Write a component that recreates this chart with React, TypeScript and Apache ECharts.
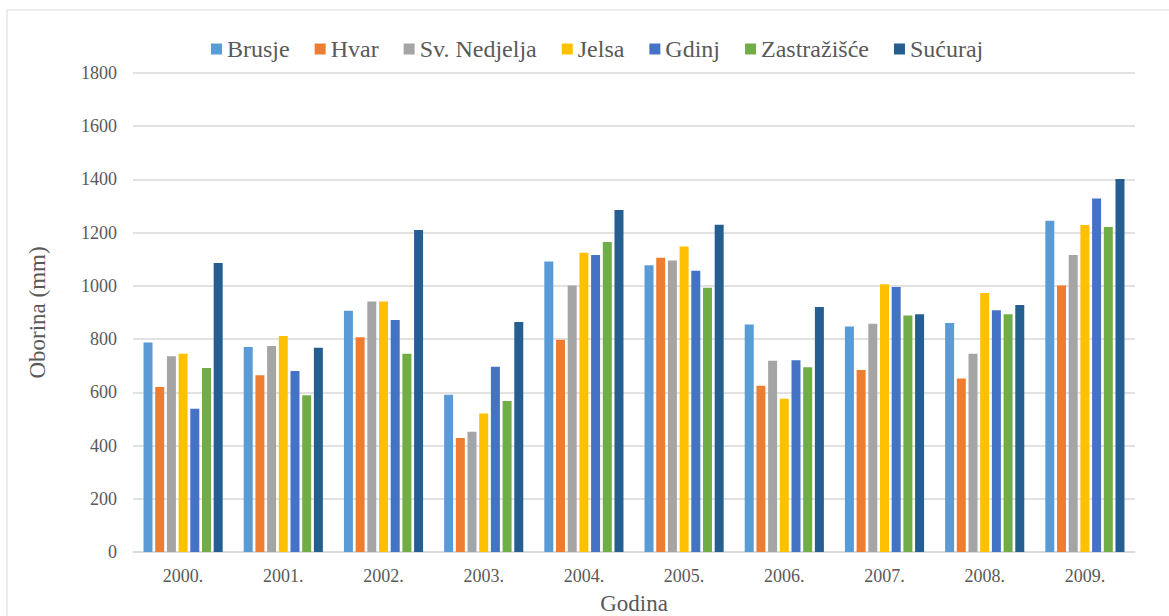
import React, { useEffect, useRef } from "react";
import * as echarts from "echarts";

const years = ["2000.", "2001.", "2002.", "2003.", "2004.", "2005.", "2006.", "2007.", "2008.", "2009."];
const brusje = [787, 770, 907, 591, 1092, 1078, 855, 847, 861, 1245];
const hvar = [620, 664, 807, 428, 798, 1106, 625, 684, 652, 1001];
const svNedjelja = [736, 774, 941, 452, 1001, 1095, 719, 858, 745, 1116];
const jelsa = [745, 812, 941, 520, 1125, 1148, 576, 1006, 973, 1229];
const gdinj = [538, 680, 872, 696, 1116, 1057, 721, 996, 908, 1328];
const zastrazisce = [691, 589, 745, 567, 1165, 993, 694, 889, 893, 1221];
const sucuraj = [1086, 768, 1210, 864, 1285, 1230, 921, 893, 928, 1402];

const seriesNames = ["Brusje", "Hvar", "Sv. Nedjelja", "Jelsa", "Gdinj", "Zastražišće", "Sućuraj"];
const seriesData = [brusje, hvar, svNedjelja, jelsa, gdinj, zastrazisce, sucuraj];
const colors = ["#5B9BD5", "#ED7D31", "#A5A5A5", "#FFC000", "#4472C4", "#70AD47", "#255E91"];

export default function App() {
  const ref = useRef<HTMLDivElement>(null);
  useEffect(() => {
    if (!ref.current) return;
    const chart = echarts.init(ref.current, null, { renderer: "svg" });
    const font = "Times New Roman, Liberation Serif, serif";
    chart.setOption({
      animation: false,
      color: colors,
      textStyle: { fontFamily: font, color: "#595959" },
      graphic: [
        {
          type: "rect",
          shape: { x: 7, y: 10, width: 1200, height: 700 },
          style: { fill: "none", stroke: "#d9d9d9", lineWidth: 1 },
          silent: true,
        },
      ],
      legend: {
        left: 206,
        top: 32,
        itemWidth: 11,
        itemHeight: 11,
        itemGap: 25,
        icon: "rect",
        textStyle: { fontFamily: font, fontSize: 24, color: "#595959" },
        data: seriesNames,
      },
      grid: {
        left: 133,
        right: 34,
        top: 73,
        bottom: 64,
        containLabel: false,
        outerBoundsMode: "none",
      },
      xAxis: {
        type: "category",
        data: years,
        name: "Godina",
        nameLocation: "middle",
        nameGap: 40,
        nameTextStyle: { fontFamily: font, fontSize: 23, color: "#595959" },
        axisLine: { lineStyle: { color: "#d9d9d9", width: 1.5 } },
        axisTick: { show: false },
        axisLabel: { fontFamily: font, fontSize: 18, color: "#595959", margin: 15 },
      },
      yAxis: {
        type: "value",
        min: 0,
        max: 1800,
        interval: 200,
        name: "Oborina (mm)",
        nameLocation: "middle",
        nameGap: 84,
        nameTextStyle: { fontFamily: font, fontSize: 23, color: "#595959" },
        axisLine: { show: false },
        axisTick: { show: false },
        axisLabel: {
          fontFamily: font,
          fontSize: 18,
          color: "#595959",
          margin: 16,
          formatter: (v: number) => String(v),
        },
        splitLine: { lineStyle: { color: "#d9d9d9", width: 1.5 } },
      },
      series: seriesNames.map((name, i) => ({
        name,
        type: "bar",
        data: seriesData[i],
        barGap: "30%",
        barCategoryGap: "21%",
        itemStyle: { color: colors[i] },
      })),
    });
    return () => chart.dispose();
  }, []);
  return (
    <div
      ref={ref}
      style={{ position: "absolute", left: 0, top: 0, width: 1169, height: 616, background: "#fff" }}
    />
  );
}
